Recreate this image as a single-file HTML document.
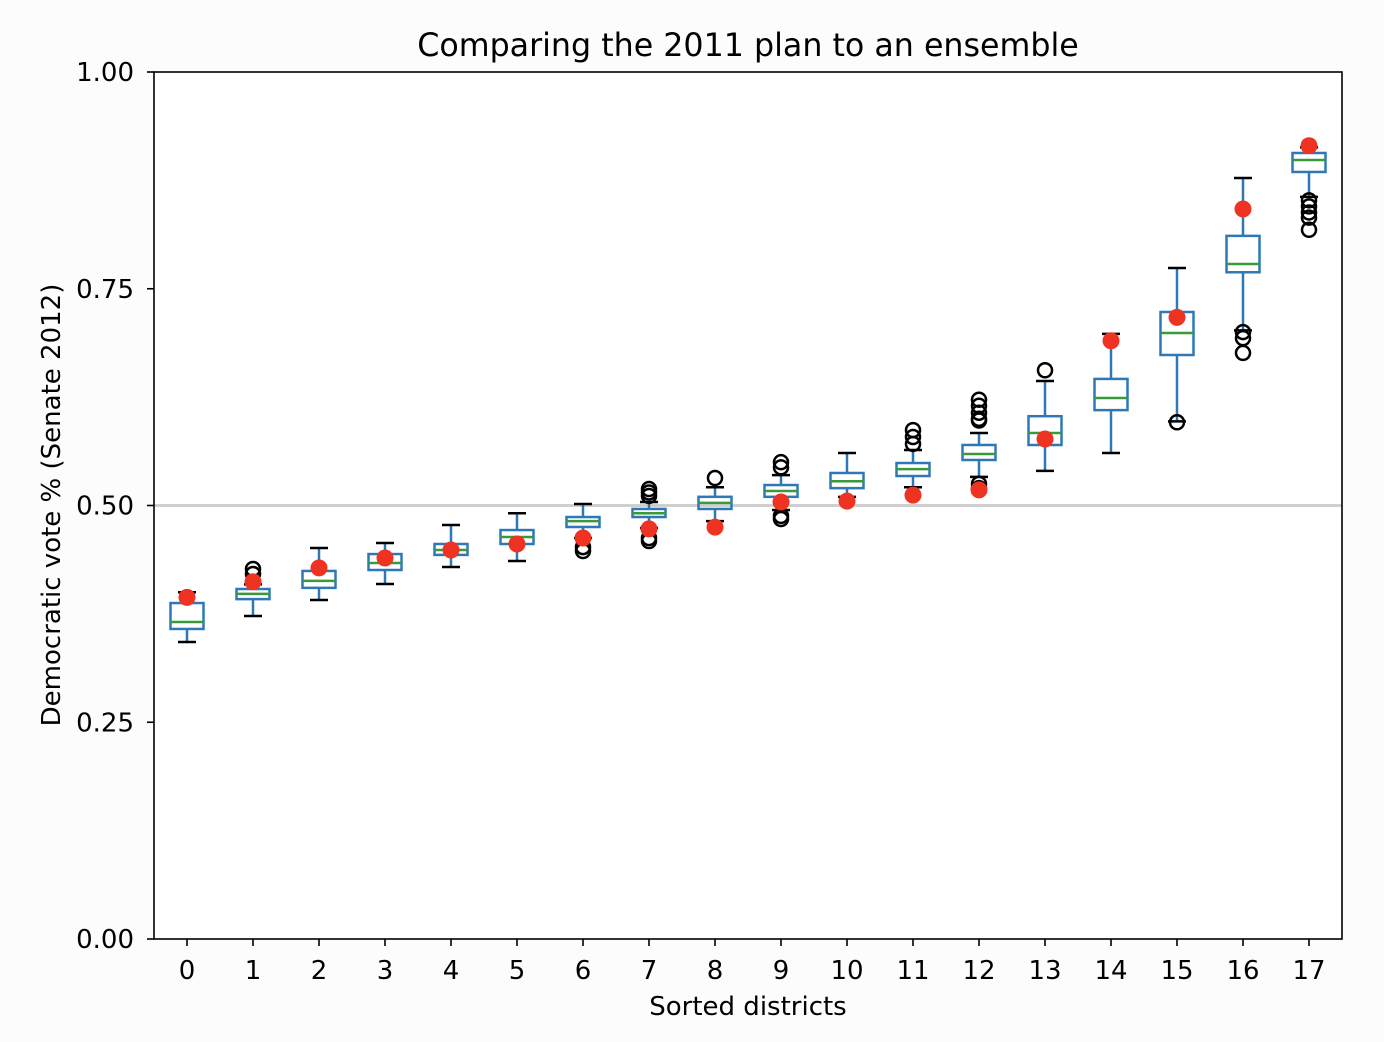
<!DOCTYPE html>
<html><head><meta charset="utf-8"><style>
body{margin:0;background:#fcfcfc;}
svg{display:block;font-family:"DejaVu Sans","Liberation Sans",sans-serif;}
</style></head><body>
<svg id="chart" width="1384" height="1042">
<rect width="1384" height="1042" fill="#fcfcfc"/>
<rect x="154" y="72" width="1188" height="867" fill="#fff"/>
<text x="748" y="56" font-size="31.7" text-anchor="middle">Comparing the 2011 plan to an ensemble</text>
<text x="748" y="1015" font-size="26" text-anchor="middle">Sorted districts</text>
<text transform="translate(60,505) rotate(-90)" font-size="26" text-anchor="middle">Democratic vote % (Senate 2012)</text>
<g id="plot"></g>
<rect x="154" y="72" width="1188" height="867" fill="none" stroke="#000" stroke-width="1.6"/>
</svg>
<script>
const categories=["0","1","2","3","4","5","6","7","8","9","10","11","12","13","14","15","16","17"];
const whiskerLow=[0.3426,0.3725,0.391,0.4095,0.429,0.436,0.4625,0.474,0.482,0.4948,0.51,0.521,0.533,0.54,0.5606,0.597,0.702,0.856];
const q1=[0.3576,0.392,0.405,0.4256,0.443,0.4556,0.4752,0.4867,0.496,0.51,0.52,0.534,0.5525,0.5698,0.61,0.6736,0.769,0.8847];
const medians=[0.3656,0.398,0.413,0.4337,0.4487,0.4637,0.482,0.491,0.503,0.5167,0.528,0.542,0.5594,0.5836,0.624,0.699,0.7785,0.8985];
const q3=[0.3875,0.4037,0.4245,0.444,0.4556,0.4717,0.4867,0.496,0.51,0.5236,0.5375,0.549,0.5698,0.603,0.646,0.7232,0.811,0.9066];
const whiskerHigh=[0.400,0.409,0.451,0.4567,0.4775,0.491,0.5017,0.504,0.521,0.535,0.5606,0.564,0.5836,0.6436,0.698,0.774,0.8777,0.913];
const fliers=[[],[0.4268,0.421],[],[],[],[],[0.452,0.4475],[0.519,0.515,0.511,0.4625,0.459],[0.5317],[0.550,0.544,0.488,0.4844],[],[0.587,0.579,0.571,0.512],[0.622,0.615,0.607,0.60,0.598,0.525,0.520],[0.656],[],[0.596],[0.70,0.693,0.676],[0.852,0.845,0.838,0.832,0.818]];
const plan2011=[0.394,0.412,0.428,0.4394,0.4487,0.4556,0.4625,0.473,0.475,0.504,0.505,0.512,0.518,0.5767,0.690,0.717,0.842,0.915];
const yTicks=[0,0.25,0.5,0.75,1.0];
const yTickLabels=["0.00","0.25","0.50","0.75","1.00"];

const NS="http://www.w3.org/2000/svg";
const g=document.getElementById('plot');
const xs=i=>154+(i+0.5)*66;
const ys=v=>939-v*867;
function mk(tag,attrs,parent){const e=document.createElementNS(NS,tag);for(const k in attrs)e.setAttribute(k,attrs[k]);(parent||g).appendChild(e);return e;}

let l=mk('line',{x1:154,x2:1342,y1:ys(0.5),y2:ys(0.5),stroke:'#cccccc','stroke-width':2.8});



yTicks.forEach((v,i)=>{
  const t=mk('line',{x1:147,x2:154,y1:ys(v),y2:ys(v),stroke:'#000','stroke-width':1.6});
  
  
  const tx=mk('text',{x:134,y:ys(v)+9,'font-size':26,'text-anchor':'end'});
  tx.textContent=yTickLabels[i];
  
  
});
categories.forEach((c,i)=>{
  const x=xs(i);
  const t=mk('line',{x1:x,x2:x,y1:939,y2:946,stroke:'#000','stroke-width':1.6});
  
  
  const tx=mk('text',{x:x,y:979,'font-size':26,'text-anchor':'middle'});
  tx.textContent=c;
  
  

  const grp=mk('g',{});
  
  
  const blue='#2f78b8';
  mk('line',{x1:x,x2:x,y1:ys(whiskerLow[i]),y2:ys(q1[i]),stroke:blue,'stroke-width':2.5},grp);
  mk('line',{x1:x,x2:x,y1:ys(q3[i]),y2:ys(whiskerHigh[i]),stroke:blue,'stroke-width':2.5},grp);
  mk('line',{x1:x-9,x2:x+9,y1:ys(whiskerLow[i]),y2:ys(whiskerLow[i]),stroke:'#000','stroke-width':2.5},grp);
  mk('line',{x1:x-9,x2:x+9,y1:ys(whiskerHigh[i]),y2:ys(whiskerHigh[i]),stroke:'#000','stroke-width':2.5},grp);
  mk('rect',{x:x-16.5,y:ys(q3[i]),width:33,height:ys(q1[i])-ys(q3[i]),fill:'none',stroke:blue,'stroke-width':2.5},grp);
  mk('line',{x1:x-16.5,x2:x+16.5,y1:ys(medians[i]),y2:ys(medians[i]),stroke:'#3a9a3a','stroke-width':2.5},grp);
  fliers[i].forEach(f=>{
    const cc=mk('circle',{cx:x,cy:ys(f),r:7,fill:'none',stroke:'#000','stroke-width':2.5});
    
    
  });
});
plan2011.forEach((v,i)=>{
  const d=mk('circle',{cx:xs(i),cy:ys(v),r:8.5,fill:'#ee3322'});
  
  
});
</script>
</body></html>
